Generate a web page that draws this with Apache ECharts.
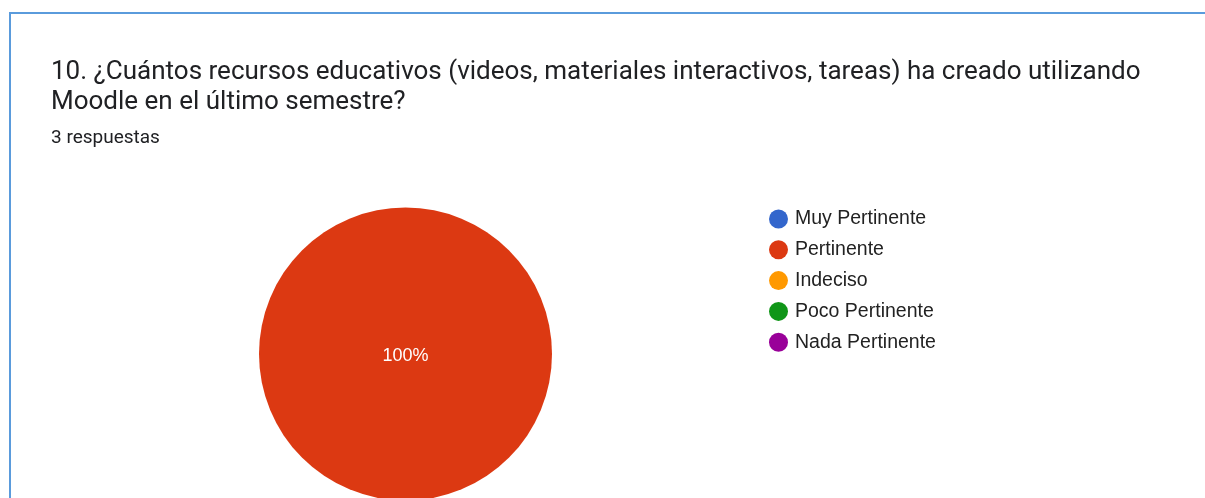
<!DOCTYPE html>
<html>
<head>
<meta charset="utf-8">
<script src="https://cdn.jsdelivr.net/npm/echarts@6/dist/echarts.min.js"></script>
<style>
html,body{margin:0;padding:0;background:#fff;}
#chart{width:1205px;height:498px;}
</style>
</head>
<body>
<div id="chart"></div>
<script>
const questionText = '10. ¿Cuántos recursos educativos (videos, materiales interactivos, tareas) ha creado utilizando\nMoodle en el último semestre?';
const responsesText = '3 respuestas';
const categories = ['Muy Pertinente', 'Pertinente', 'Indeciso', 'Poco Pertinente', 'Nada Pertinente'];
const counts = [0, 3, 0, 0, 0];
const colors = ['#3366cc', '#dc3912', '#ff9900', '#109618', '#990099'];

const chart = echarts.init(document.getElementById('chart'), null, {renderer: 'canvas'});
const pieData = categories.map((name, i) => ({name: name, value: counts[i], itemStyle: {color: colors[i]}}));

chart.setOption({
  animation: false,
  backgroundColor: '#ffffff',
  title: [
    {
      text: questionText,
      left: 51, top: 57, padding: 0,
      textStyle: {fontFamily: 'Roboto', fontSize: 26, fontWeight: 'normal', color: '#202124', lineHeight: 30}
    },
    {
      text: responsesText,
      left: 51, top: 129, padding: 0,
      textStyle: {fontFamily: 'Roboto', fontSize: 19, fontWeight: 'normal', color: '#202124', lineHeight: 19}
    }
  ],
  graphic: [
    {
      type: 'polyline',
      shape: {points: [[10, 498], [10, 13], [1205, 13]]},
      style: {stroke: '#5a9bdc', lineWidth: 2, fill: null},
      silent: true
    }
  ],
  legend: {
    orient: 'vertical',
    left: 769, top: 209,
    padding: 0,
    icon: 'circle',
    itemWidth: 23, itemHeight: 19,
    itemGap: 10.8,
    selectedMode: false,
    data: categories,
    textStyle: {fontFamily: 'Liberation Sans', fontSize: 19.5, color: '#222222', lineHeight: 19}
  },
  series: [
    {
      type: 'pie',
      center: [405.5, 354],
      radius: 146.5,
      startAngle: 90,
      clockwise: true,
      stillShowZeroSum: true,
      avoidLabelOverlap: false,
      label: {
        show: true,
        position: 'center',
        offset: [0, 2],
        fontFamily: 'Liberation Sans',
        fontSize: 18,
        color: '#ffffff',
        formatter: p => p.value > 0 ? Math.round(p.percent) + '%' : ''
      },
      labelLine: {show: false},
      itemStyle: {borderWidth: 0},
      emphasis: {disabled: true},
      data: pieData
    }
  ]
});
</script>
</body>
</html>
